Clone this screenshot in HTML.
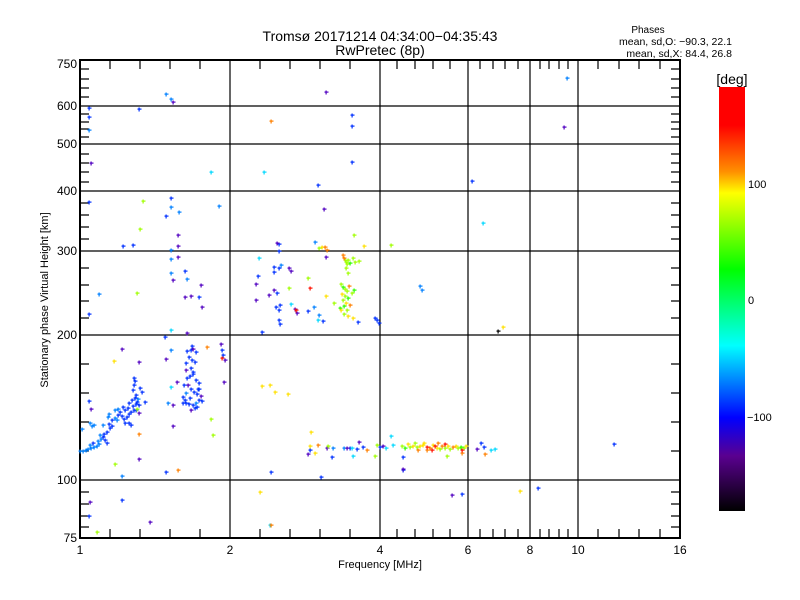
<!DOCTYPE html>
<html><head><meta charset="utf-8"><style>
body{margin:0;background:#fff;width:800px;height:600px;overflow:hidden}
svg{display:block}
text{font-family:"Liberation Sans",sans-serif;fill:#000}
</style></head><body>
<svg width="800" height="600" viewBox="0 0 800 600" xmlns="http://www.w3.org/2000/svg">
<defs>
<linearGradient id="cb" x1="0" y1="0" x2="0" y2="1">
<stop offset="0" stop-color="#ff0000"/><stop offset="0.09" stop-color="#ff0000"/>
<stop offset="0.2" stop-color="#ff9000"/><stop offset="0.25" stop-color="#ffff00"/>
<stop offset="0.43" stop-color="#00ff00"/><stop offset="0.61" stop-color="#00ffff"/>
<stop offset="0.78" stop-color="#0000ff"/><stop offset="0.87" stop-color="#5a0090"/>
<stop offset="1" stop-color="#000000"/>
</linearGradient>
<g id="p"><rect x="-1.5" y="-0.5" width="4" height="1.2"/><rect x="-0.5" y="-1.5" width="1.2" height="4"/></g>
</defs>
<text x="380" y="41" font-size="14" text-anchor="middle">Tromsø 20171214 04:34:00−04:35:43</text>
<text x="380" y="55" font-size="14" text-anchor="middle">RwPretec (8p)</text>
<text x="648" y="33" font-size="10" text-anchor="middle">Phases</text>
<text x="732" y="45" font-size="10.5" text-anchor="end">mean, sd,O: −90.3, 22.1</text>
<text x="732" y="57" font-size="10.5" text-anchor="end">mean, sd,X:  84.4, 26.8</text>
<g stroke="#000" stroke-width="1.2" fill="none">
<rect x="80" y="60" width="600" height="478" stroke-width="2"/>
<path d="M230 60V538M380 60V538M468 60V538M530 60V538M578 60V538"/>
<path d="M80 480H680M80 335H680M80 251H680M80 191H680M80 144H680M80 106H680"/>
<path d="M80 492h9M80 504h9M80 516h9M80 527h9M80 451h9M80 422h9M80 393h9M80 364h9M80 318h9M80 301h9M80 285h9M80 268h9M80 239h9M80 227h9M80 215h9M80 203h9M80 182h9M80 172h9M80 163h9M80 154h9M80 137h9M80 129h9M80 122h9M80 114h9M80 97h9M80 88h9M80 79h9M80 69h9M671 492h9M671 504h9M671 516h9M671 527h9M671 451h9M671 422h9M671 393h9M671 364h9M671 318h9M671 301h9M671 285h9M671 268h9M671 239h9M671 227h9M671 215h9M671 203h9M671 182h9M671 172h9M671 163h9M671 154h9M671 137h9M671 129h9M671 122h9M671 114h9M671 97h9M671 88h9M671 79h9M671 69h9"/>
<path d="M110 538v-9M140 538v-9M170 538v-9M200 538v-9M260 538v-9M290 538v-9M320 538v-9M350 538v-9M397 538v-9M415 538v-9M433 538v-9M450 538v-9M480 538v-9M493 538v-9M505 538v-9M518 538v-9M540 538v-9M549 538v-9M559 538v-9M568 538v-9M598 538v-9M619 538v-9M639 538v-9M660 538v-9M110 60v9M140 60v9M170 60v9M200 60v9M260 60v9M290 60v9M320 60v9M350 60v9M397 60v9M415 60v9M433 60v9M450 60v9M480 60v9M493 60v9M505 60v9M518 60v9M540 60v9M549 60v9M559 60v9M568 60v9M598 60v9M619 60v9M639 60v9M660 60v9"/>
</g>
<g font-size="12" text-anchor="end">
<text x="77" y="68">750</text><text x="77" y="110">600</text><text x="77" y="148">500</text><text x="77" y="195">400</text><text x="77" y="255">300</text><text x="77" y="339">200</text><text x="77" y="484">100</text><text x="77" y="542">75</text>
</g>
<g font-size="12" text-anchor="middle">
<text x="80" y="554">1</text><text x="230" y="554">2</text><text x="380" y="554">4</text><text x="468" y="554">6</text><text x="530" y="554">8</text><text x="578" y="554">10</text><text x="680" y="554">16</text>
</g>
<text x="380" y="568" font-size="11" text-anchor="middle">Frequency [MHz]</text>
<text transform="translate(48,300) rotate(-90)" font-size="11" text-anchor="middle">Stationary phase Virtual Height [km]</text>
<rect x="719" y="87" width="26" height="424" fill="url(#cb)"/>
<text x="732" y="84" font-size="14" text-anchor="middle">[deg]</text>
<g font-size="11"><text x="748" y="188">100</text><text x="748" y="304">0</text><text x="747" y="421">−100</text></g>
<g>
<g fill="#0080ff"><use href="#p" x="166" y="94"/><use href="#p" x="171" y="99"/><use href="#p" x="89" y="130"/><use href="#p" x="219" y="206"/><use href="#p" x="171" y="207"/><use href="#p" x="179" y="212"/><use href="#p" x="171" y="250"/><use href="#p" x="171" y="259"/><use href="#p" x="171" y="273"/><use href="#p" x="187" y="279"/><use href="#p" x="99" y="294"/><use href="#p" x="171" y="350"/><use href="#p" x="168" y="403"/><use href="#p" x="122" y="476"/><use href="#p" x="315" y="242"/><use href="#p" x="281" y="265"/><use href="#p" x="314" y="307"/><use href="#p" x="319" y="315"/><use href="#p" x="567" y="78"/><use href="#p" x="420" y="286"/><use href="#p" x="422" y="290"/><use href="#p" x="344" y="448"/><use href="#p" x="333" y="448"/>
<use href="#p" x="80" y="451"/><use href="#p" x="83" y="451"/><use href="#p" x="86" y="450"/><use href="#p" x="88" y="449"/><use href="#p" x="91" y="448"/><use href="#p" x="94" y="447"/><use href="#p" x="90" y="445"/><use href="#p" x="97" y="446"/><use href="#p" x="99" y="444"/><use href="#p" x="101" y="439"/><use href="#p" x="100" y="435"/><use href="#p" x="98" y="441"/><use href="#p" x="103" y="425"/><use href="#p" x="92" y="426"/><use href="#p" x="90" y="423"/><use href="#p" x="94" y="425"/><use href="#p" x="82" y="429"/><use href="#p" x="115" y="418"/><use href="#p" x="117" y="420"/><use href="#p" x="109" y="414"/><use href="#p" x="108" y="417"/><use href="#p" x="115" y="410"/><use href="#p" x="118" y="409"/><use href="#p" x="138" y="399"/><use href="#p" x="186" y="393"/><use href="#p" x="196" y="403"/></g>
<g fill="#0030ff"><use href="#p" x="89" y="108"/><use href="#p" x="139" y="109"/><use href="#p" x="89" y="117"/><use href="#p" x="89" y="202"/><use href="#p" x="171" y="198"/><use href="#p" x="166" y="216"/><use href="#p" x="123" y="246"/><use href="#p" x="133" y="245"/><use href="#p" x="185" y="271"/><use href="#p" x="89" y="314"/><use href="#p" x="199" y="297"/><use href="#p" x="165" y="337"/><use href="#p" x="192" y="346"/><use href="#p" x="187" y="351"/><use href="#p" x="222" y="350"/><use href="#p" x="223" y="355"/><use href="#p" x="89" y="401"/><use href="#p" x="145" y="402"/><use href="#p" x="166" y="472"/><use href="#p" x="279" y="244"/><use href="#p" x="279" y="251"/><use href="#p" x="274" y="267"/><use href="#p" x="274" y="272"/><use href="#p" x="279" y="268"/><use href="#p" x="258" y="276"/><use href="#p" x="277" y="293"/><use href="#p" x="276" y="307"/><use href="#p" x="280" y="305"/><use href="#p" x="279" y="310"/><use href="#p" x="308" y="311"/><use href="#p" x="323" y="321"/><use href="#p" x="279" y="320"/><use href="#p" x="280" y="324"/><use href="#p" x="262" y="332"/><use href="#p" x="358" y="322"/><use href="#p" x="375" y="318"/><use href="#p" x="377" y="320"/><use href="#p" x="379" y="323"/><use href="#p" x="352" y="115"/><use href="#p" x="352" y="126"/><use href="#p" x="352" y="162"/><use href="#p" x="318" y="185"/><use href="#p" x="472" y="181"/><use href="#p" x="89" y="516"/><use href="#p" x="122" y="500"/><use href="#p" x="271" y="472"/><use href="#p" x="321" y="477"/><use href="#p" x="403" y="470"/><use href="#p" x="538" y="488"/><use href="#p" x="462" y="494"/><use href="#p" x="614" y="444"/><use href="#p" x="310" y="450"/><use href="#p" x="332" y="457"/><use href="#p" x="357" y="449"/><use href="#p" x="363" y="447"/><use href="#p" x="350" y="448"/><use href="#p" x="403" y="457"/><use href="#p" x="481" y="443"/><use href="#p" x="484" y="447"/><use href="#p" x="380" y="447"/>
<use href="#p" x="93" y="443"/><use href="#p" x="103" y="437"/><use href="#p" x="105" y="440"/><use href="#p" x="107" y="443"/><use href="#p" x="104" y="434"/><use href="#p" x="107" y="432"/><use href="#p" x="110" y="428"/><use href="#p" x="109" y="424"/><use href="#p" x="112" y="426"/><use href="#p" x="112" y="420"/><use href="#p" x="118" y="415"/><use href="#p" x="120" y="412"/><use href="#p" x="122" y="416"/><use href="#p" x="124" y="419"/><use href="#p" x="127" y="417"/><use href="#p" x="129" y="414"/><use href="#p" x="131" y="412"/><use href="#p" x="125" y="410"/><use href="#p" x="123" y="407"/><use href="#p" x="128" y="408"/><use href="#p" x="133" y="406"/><use href="#p" x="136" y="404"/><use href="#p" x="134" y="410"/><use href="#p" x="129" y="423"/><use href="#p" x="131" y="425"/><use href="#p" x="125" y="423"/><use href="#p" x="129" y="403"/><use href="#p" x="132" y="400"/><use href="#p" x="135" y="398"/><use href="#p" x="137" y="402"/><use href="#p" x="139" y="405"/><use href="#p" x="136" y="410"/><use href="#p" x="133" y="390"/><use href="#p" x="134" y="385"/><use href="#p" x="134" y="378"/><use href="#p" x="135" y="381"/><use href="#p" x="136" y="395"/><use href="#p" x="140" y="388"/><use href="#p" x="142" y="392"/>
<use href="#p" x="191" y="350"/><use href="#p" x="196" y="352"/><use href="#p" x="189" y="357"/><use href="#p" x="192" y="360"/><use href="#p" x="195" y="362"/><use href="#p" x="186" y="363"/><use href="#p" x="191" y="368"/><use href="#p" x="193" y="372"/><use href="#p" x="190" y="376"/><use href="#p" x="193" y="374"/><use href="#p" x="187" y="378"/><use href="#p" x="196" y="380"/><use href="#p" x="199" y="383"/><use href="#p" x="184" y="385"/><use href="#p" x="191" y="389"/><use href="#p" x="194" y="392"/><use href="#p" x="197" y="394"/><use href="#p" x="199" y="389"/><use href="#p" x="183" y="397"/><use href="#p" x="190" y="398"/><use href="#p" x="186" y="403"/><use href="#p" x="183" y="403"/><use href="#p" x="189" y="404"/><use href="#p" x="193" y="405"/><use href="#p" x="199" y="400"/><use href="#p" x="202" y="401"/><use href="#p" x="195" y="408"/><use href="#p" x="198" y="389"/><use href="#p" x="185" y="400"/><use href="#p" x="197" y="407"/></g>
<g fill="#5000c0"><use href="#p" x="173" y="102"/><use href="#p" x="91" y="163"/><use href="#p" x="178" y="235"/><use href="#p" x="178" y="246"/><use href="#p" x="178" y="257"/><use href="#p" x="173" y="280"/><use href="#p" x="201" y="285"/><use href="#p" x="185" y="297"/><use href="#p" x="191" y="296"/><use href="#p" x="202" y="307"/><use href="#p" x="187" y="333"/><use href="#p" x="221" y="344"/><use href="#p" x="166" y="359"/><use href="#p" x="122" y="349"/><use href="#p" x="139" y="362"/><use href="#p" x="177" y="382"/><use href="#p" x="224" y="382"/><use href="#p" x="91" y="409"/><use href="#p" x="173" y="405"/><use href="#p" x="173" y="426"/><use href="#p" x="139" y="459"/><use href="#p" x="139" y="413"/><use href="#p" x="193" y="349"/><use href="#p" x="186" y="370"/><use href="#p" x="188" y="385"/><use href="#p" x="201" y="396"/><use href="#p" x="191" y="410"/><use href="#p" x="225" y="360"/><use href="#p" x="277" y="243"/><use href="#p" x="326" y="257"/><use href="#p" x="289" y="268"/><use href="#p" x="291" y="271"/><use href="#p" x="256" y="284"/><use href="#p" x="274" y="290"/><use href="#p" x="269" y="295"/><use href="#p" x="256" y="300"/><use href="#p" x="295" y="309"/><use href="#p" x="297" y="313"/><use href="#p" x="326" y="92"/><use href="#p" x="564" y="127"/><use href="#p" x="324" y="209"/><use href="#p" x="90" y="502"/><use href="#p" x="150" y="522"/><use href="#p" x="452" y="495"/><use href="#p" x="308" y="454"/><use href="#p" x="327" y="448"/><use href="#p" x="347" y="448"/><use href="#p" x="359" y="442"/><use href="#p" x="383" y="446"/><use href="#p" x="477" y="449"/><use href="#p" x="403" y="469"/></g>
<g fill="#00d8ff"><use href="#p" x="211" y="172"/><use href="#p" x="171" y="330"/><use href="#p" x="171" y="387"/><use href="#p" x="259" y="258"/><use href="#p" x="291" y="304"/><use href="#p" x="318" y="320"/><use href="#p" x="264" y="172"/><use href="#p" x="483" y="223"/><use href="#p" x="270" y="525"/><use href="#p" x="391" y="436"/><use href="#p" x="393" y="445"/><use href="#p" x="491" y="450"/><use href="#p" x="495" y="449"/><use href="#p" x="352" y="448"/><use href="#p" x="353" y="456"/><use href="#p" x="386" y="448"/></g>
<g fill="#a0ff00"><use href="#p" x="143" y="201"/><use href="#p" x="140" y="229"/><use href="#p" x="137" y="293"/><use href="#p" x="137" y="409"/><use href="#p" x="115" y="464"/><use href="#p" x="211" y="419"/><use href="#p" x="213" y="435"/><use href="#p" x="319" y="248"/><use href="#p" x="354" y="235"/><use href="#p" x="391" y="245"/><use href="#p" x="346" y="262"/><use href="#p" x="348" y="260"/><use href="#p" x="347" y="264"/><use href="#p" x="348" y="273"/><use href="#p" x="355" y="262"/><use href="#p" x="359" y="261"/><use href="#p" x="308" y="278"/><use href="#p" x="289" y="288"/><use href="#p" x="334" y="303"/><use href="#p" x="97" y="532"/><use href="#p" x="328" y="446"/><use href="#p" x="375" y="456"/><use href="#p" x="377" y="445"/><use href="#p" x="447" y="456"/>
<use href="#p" x="341" y="284"/><use href="#p" x="345" y="289"/><use href="#p" x="347" y="291"/><use href="#p" x="345" y="296"/><use href="#p" x="343" y="300"/><use href="#p" x="347" y="310"/><use href="#p" x="344" y="314"/><use href="#p" x="352" y="293"/><use href="#p" x="346" y="268"/><use href="#p" x="353" y="258"/><use href="#p" x="345" y="260"/><use href="#p" x="402" y="446"/><use href="#p" x="410" y="447"/><use href="#p" x="417" y="447"/><use href="#p" x="440" y="449"/><use href="#p" x="445" y="448"/><use href="#p" x="450" y="449"/><use href="#p" x="458" y="448"/><use href="#p" x="464" y="448"/><use href="#p" x="415" y="443"/></g>
<g fill="#30ff00"><use href="#p" x="343" y="287"/><use href="#p" x="348" y="298"/><use href="#p" x="344" y="306"/><use href="#p" x="354" y="290"/><use href="#p" x="350" y="263"/><use href="#p" x="405" y="448"/><use href="#p" x="461" y="447"/><use href="#p" x="340" y="308"/></g>
<g fill="#ffe000"><use href="#p" x="114" y="361"/><use href="#p" x="322" y="247"/><use href="#p" x="364" y="246"/><use href="#p" x="326" y="296"/><use href="#p" x="342" y="294"/><use href="#p" x="346" y="303"/><use href="#p" x="341" y="310"/><use href="#p" x="348" y="316"/><use href="#p" x="353" y="318"/><use href="#p" x="262" y="386"/><use href="#p" x="270" y="385"/><use href="#p" x="275" y="392"/><use href="#p" x="288" y="394"/><use href="#p" x="260" y="492"/><use href="#p" x="520" y="491"/><use href="#p" x="503" y="327"/><use href="#p" x="311" y="432"/><use href="#p" x="310" y="446"/><use href="#p" x="315" y="453"/><use href="#p" x="408" y="444"/><use href="#p" x="413" y="446"/><use href="#p" x="420" y="446"/><use href="#p" x="423" y="445"/><use href="#p" x="433" y="445"/><use href="#p" x="437" y="448"/><use href="#p" x="448" y="446"/><use href="#p" x="456" y="446"/><use href="#p" x="466" y="446"/><use href="#p" x="424" y="443"/></g>
<g fill="#ff8000"><use href="#p" x="207" y="347"/><use href="#p" x="139" y="434"/><use href="#p" x="178" y="470"/><use href="#p" x="325" y="247"/><use href="#p" x="327" y="250"/><use href="#p" x="344" y="258"/><use href="#p" x="343" y="255"/><use href="#p" x="349" y="286"/><use href="#p" x="350" y="305"/><use href="#p" x="271" y="121"/><use href="#p" x="271" y="525"/><use href="#p" x="318" y="445"/><use href="#p" x="367" y="450"/><use href="#p" x="430" y="448"/><use href="#p" x="427" y="450"/><use href="#p" x="442" y="446"/><use href="#p" x="453" y="447"/><use href="#p" x="438" y="443"/><use href="#p" x="418" y="450"/><use href="#p" x="462" y="453"/><use href="#p" x="485" y="454"/></g>
<g fill="#ff1000"><use href="#p" x="222" y="358"/><use href="#p" x="310" y="288"/><use href="#p" x="427" y="447"/><use href="#p" x="435" y="446"/><use href="#p" x="432" y="450"/><use href="#p" x="445" y="444"/><use href="#p" x="462" y="450"/><use href="#p" x="296" y="310"/></g>
<g fill="#000"><use href="#p" x="498" y="331"/></g>
</g>
</svg>
</body></html>
